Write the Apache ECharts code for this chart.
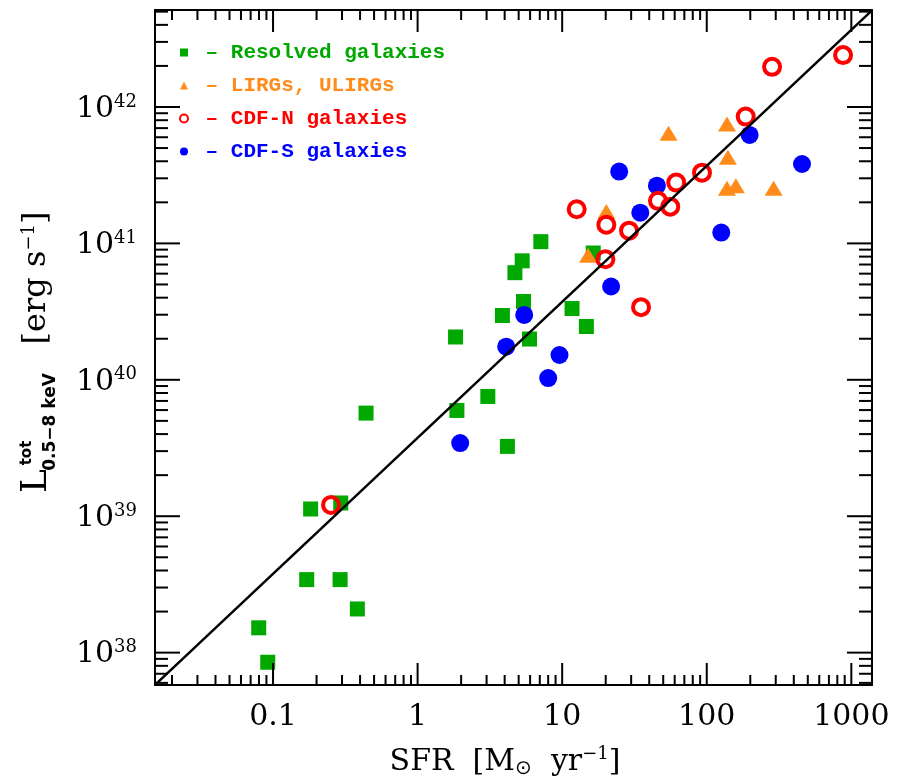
<!DOCTYPE html>
<html>
<head>
<meta charset="utf-8">
<script src="https://cdn.jsdelivr.net/npm/echarts@6/dist/echarts.min.js"></script>
<style>
html,body{margin:0;padding:0;background:#fff;}
#chart{width:911px;height:780px;}
</style>
</head>
<body>
<div id="chart"></div>
<script>
// ---- axis extents ----
const X_MIN = 0.01526, X_MAX = 1390;
const Y_MIN = 5.79e37, Y_MAX = 5.14e42;

// ---- tick marks and labels ----
const xMajorTicks = [0.1, 1, 10, 100, 1000];
const xTickLabels = ['0.1', '1', '10', '100', '1000'];
const yMajorTicks = [1e38, 1e39, 1e40, 1e41, 1e42];
const yTickExponents = ['38', '39', '40', '41', '42'];
const minorMultipliers = [2, 3, 4, 5, 6, 7, 8, 9];

// ---- Resolved galaxies (green squares) ----
const resolvedSFR = [0.182, 0.294, 0.171, 0.291, 0.383, 0.0796, 0.0919, 0.44, 1.83, 1.87, 3.06, 4.18, 3.86, 5.40, 5.94, 4.71, 5.29, 7.12, 11.7, 14.7, 16.4];
const resolvedL   = [1.13e39, 1.25e39, 3.43e38, 3.43e38, 2.09e38, 1.52e38, 8.5e37, 5.7e39, 2.06e40, 5.96e39, 7.55e39, 3.25e39, 2.96e40, 3.75e40, 1.99e40, 6.1e40, 7.45e40, 1.03e41, 3.33e40, 2.46e40, 8.5e40];

// ---- LIRGs, ULIRGs (orange triangles) ----
const lirgSFR = [15.1, 20.2, 54.4, 138, 140, 138, 159, 290];
const lirgL   = [8.2e40, 1.71e41, 6.42e41, 7.5e41, 4.28e41, 2.54e41, 2.65e41, 2.54e41];

// ---- CDF-N galaxies (red open circles) ----
const cdfnSFR = [0.252, 12.6, 20.2, 19.9, 29.0, 35.1, 46.0, 55.9, 61.5, 92.7, 186, 283, 877];
const cdfnL   = [1.21e39, 1.78e41, 1.37e41, 7.66e40, 1.24e41, 3.41e40, 2.05e41, 1.86e41, 2.79e41, 3.30e41, 8.5e41, 1.97e42, 2.40e42];

// ---- CDF-S galaxies (blue filled circles) ----
const cdfsSFR = [1.97, 4.10, 5.46, 8.0, 9.58, 21.8, 24.8, 34.7, 45.2, 126, 198, 456];
const cdfsL   = [3.44e39, 1.75e40, 2.99e40, 1.03e40, 1.52e40, 4.83e40, 3.36e41, 1.68e41, 2.65e41, 1.20e41, 6.24e41, 3.82e41];

// ---- relation line endpoints ----
const lineSFR = [0.01526, 1390];
const lineL   = [5.8e37, 5.1e42];

const GREEN = '#00a800', ORANGE = '#ff8c1a', RED = '#ff0000', BLUE = '#0000ff';

function pairs(xs, ys) { return xs.map((x, i) => [x, ys[i]]); }

// tick data: [x, y, kind] kind 0 x-major, 1 x-minor, 2 y-major, 3 y-minor
const tickData = [];
xMajorTicks.forEach(v => tickData.push([v, Y_MIN, 0]));
yMajorTicks.forEach(v => tickData.push([X_MIN, v, 2]));
for (let n = -2; n <= 3; n++) {
  minorMultipliers.forEach(m => {
    const v = m * Math.pow(10, n);
    if (v > X_MIN && v < X_MAX) tickData.push([v, Y_MIN, 1]);
  });
}
for (let n = 37; n <= 42; n++) {
  minorMultipliers.forEach(m => {
    const v = m * Math.pow(10, n);
    if (v > Y_MIN && v < Y_MAX) tickData.push([X_MIN, v, 3]);
  });
}
// label data: [x, y, axis, index]
const labelData = [];
xMajorTicks.forEach((v, i) => labelData.push([v, Y_MIN, 0, i]));
yMajorTicks.forEach((v, i) => labelData.push([X_MIN, v, 1, i]));

const chart = echarts.init(document.getElementById('chart'), null, {renderer: 'canvas'});

const axisLineStyle = {lineStyle: {color: '#000', width: 2}};
const baseLog = {
  type: 'log', logBase: 10,
  axisLine: Object.assign({show: true, onZero: false}, axisLineStyle),
  axisTick: {show: false}, axisLabel: {show: false},
  splitLine: {show: false}, minorTick: {show: false}, minorSplitLine: {show: false}
};

const option = {
  backgroundColor: '#fff',
  animation: false,
  grid: {left: 155, top: 10, right: 39, bottom: 95, containLabel: false, outerBoundsMode: 'none'},
  xAxis: [
    Object.assign({}, baseLog, {min: X_MIN, max: X_MAX, position: 'bottom'}),
    Object.assign({}, baseLog, {min: X_MIN, max: X_MAX, position: 'top'})
  ],
  yAxis: [
    Object.assign({}, baseLog, {min: Y_MIN, max: Y_MAX, position: 'left'}),
    Object.assign({}, baseLog, {min: Y_MIN, max: Y_MAX, position: 'right'})
  ],
  legend: {
    orient: 'vertical', left: 179, top: 42, padding: 0,
    itemWidth: 8, itemHeight: 8, itemGap: 12,
    textStyle: {fontFamily: 'Liberation Mono', fontWeight: 'bold', fontSize: 21},
    formatter: name => ' \u2013 ' + name,
    data: [
      {name: 'Resolved galaxies', icon: 'rect', textStyle: {color: GREEN}, itemStyle: {color: GREEN}},
      {name: 'LIRGs, ULIRGs', icon: 'triangle', textStyle: {color: ORANGE}, itemStyle: {color: ORANGE}},
      {name: 'CDF-N galaxies', icon: 'circle', textStyle: {color: RED}, itemStyle: {color: '#fff', borderColor: RED, borderWidth: 2}},
      {name: 'CDF-S galaxies', icon: 'circle', textStyle: {color: BLUE}, itemStyle: {color: BLUE}}
    ]
  },
  graphic: [
    {type: 'text', x: 37, y: 481, rotation: Math.PI / 2,
     style: {text: 'L', fontFamily: 'DejaVu Serif', fontSize: 36, fill: '#000', align: 'center', verticalAlign: 'middle'}},
    {type: 'text', x: 27, y: 453, rotation: Math.PI / 2,
     style: {text: 'tot', fontFamily: 'DejaVu Sans', fontWeight: 'bold', fontSize: 15, fill: '#000', align: 'center', verticalAlign: 'middle'}},
    {type: 'text', x: 51, y: 422, rotation: Math.PI / 2,
     style: {text: '0.5\u22128 keV', fontFamily: 'DejaVu Sans', fontWeight: 'bold', fontSize: 17, fill: '#000', align: 'center', verticalAlign: 'middle'}},
    {type: 'text', x: 37, y: 278, rotation: Math.PI / 2,
     style: {text: '[erg s{sup|\u22121}]', fontFamily: 'DejaVu Serif', fontSize: 32, lineHeight: 34, fill: '#000', align: 'center', verticalAlign: 'middle',
       rich: {sup: {fontFamily: 'DejaVu Serif', fontSize: 18, lineHeight: 18, verticalAlign: 'top', fill: '#000'}}}},
    {type: 'text', x: 505, y: 762,
     style: {text: 'SFR  [M{sub|\u2299}{t|  yr}{sup|\u22121}]', fontFamily: 'DejaVu Serif', fontSize: 30, lineHeight: 34, fill: '#000', align: 'center', verticalAlign: 'middle',
       rich: {
         t: {fontFamily: 'DejaVu Serif', fontSize: 30, lineHeight: 34, fill: '#000'},
         sub: {fontFamily: 'DejaVu Sans', fontSize: 20, lineHeight: 20, verticalAlign: 'bottom', fill: '#000'},
         sup: {fontFamily: 'DejaVu Serif', fontSize: 18, lineHeight: 18, verticalAlign: 'top', fill: '#000'}
       }}}
  ],
  series: [
    {
      name: 'Resolved galaxies', type: 'scatter', z: 2,
      symbol: 'rect', symbolSize: 15,
      itemStyle: {color: GREEN, opacity: 1},
      data: pairs(resolvedSFR, resolvedL)
    },
    {
      name: 'LIRGs, ULIRGs', type: 'scatter', z: 3,
      symbol: 'triangle', symbolSize: [18, 15],
      itemStyle: {color: ORANGE, opacity: 1},
      data: pairs(lirgSFR, lirgL)
    },
    {
      name: 'CDF-S galaxies', type: 'scatter', z: 4,
      symbol: 'circle', symbolSize: 18,
      itemStyle: {color: BLUE, opacity: 1},
      data: pairs(cdfsSFR, cdfsL)
    },
    {
      name: 'CDF-N galaxies', type: 'scatter', z: 5,
      symbol: 'circle', symbolSize: 16,
      itemStyle: {color: 'rgba(255,255,255,0)', borderColor: RED, borderWidth: 4, opacity: 1},
      data: pairs(cdfnSFR, cdfnL)
    },
    {
      name: 'relation', type: 'line', z: 6,
      showSymbol: false, symbol: 'none', silent: true,
      lineStyle: {color: '#000', width: 2.5},
      data: pairs(lineSFR, lineL)
    },
    {
      name: 'ticks', type: 'custom', z: 7, silent: true, clip: false,
      data: tickData,
      renderItem: function (params, api) {
        const k = api.value(2);
        const st = {stroke: '#000', lineWidth: 2};
        if (k < 2) {
          const v = api.value(0);
          const b = api.coord([v, Y_MIN]);
          const t = api.coord([v, Y_MAX]);
          const len = k === 0 ? 22 : 10;
          return {type: 'group', children: [
            {type: 'line', shape: {x1: b[0], y1: b[1], x2: b[0], y2: b[1] - len}, style: st},
            {type: 'line', shape: {x1: t[0], y1: t[1], x2: t[0], y2: t[1] + len}, style: st}
          ]};
        } else {
          const v = api.value(1);
          const l = api.coord([X_MIN, v]);
          const r = api.coord([X_MAX, v]);
          const len = k === 2 ? 25 : 13;
          return {type: 'group', children: [
            {type: 'line', shape: {x1: l[0], y1: l[1], x2: l[0] + len, y2: l[1]}, style: st},
            {type: 'line', shape: {x1: r[0], y1: r[1], x2: r[0] - len, y2: r[1]}, style: st}
          ]};
        }
      }
    },
    {
      name: 'ticklabels', type: 'custom', z: 7, silent: true, clip: false,
      data: labelData,
      renderItem: function (params, api) {
        const axis = api.value(2), i = api.value(3);
        if (axis === 0) {
          const p = api.coord([api.value(0), Y_MIN]);
          return {type: 'text', x: p[0], y: p[1] + 17,
            style: {text: xTickLabels[i], fontFamily: 'DejaVu Serif', fontSize: 30, fill: '#000', align: 'center', verticalAlign: 'top'}};
        } else {
          const p = api.coord([X_MIN, api.value(1)]);
          return {type: 'text', x: p[0] - 18, y: p[1] + 2,
            style: {text: '10{sup|' + yTickExponents[i] + '}', fontFamily: 'DejaVu Serif', fontSize: 30, lineHeight: 32, fill: '#000', align: 'right', verticalAlign: 'middle',
              rich: {sup: {fontFamily: 'DejaVu Serif', fontSize: 18, lineHeight: 18, verticalAlign: 'top', fill: '#000'}}}};
        }
      }
    }
  ]
};
chart.setOption(option);
</script>
</body>
</html>
